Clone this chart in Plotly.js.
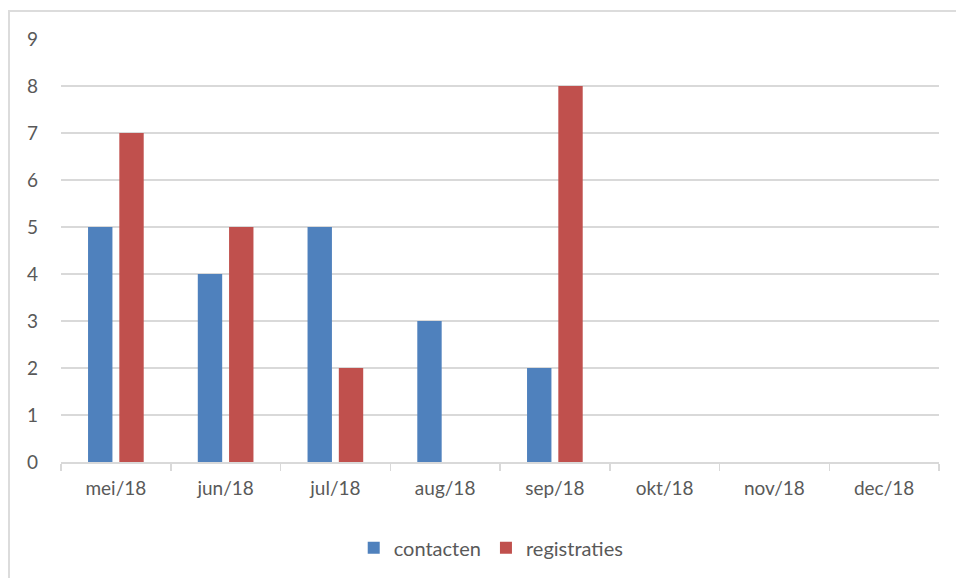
<!DOCTYPE html>
<html>
<head>
<meta charset="utf-8">
<script src="https://cdn.plot.ly/plotly-3.0.1.min.js"></script>
<style>
  html, body { margin: 0; padding: 0; background: #fff; }
  #plot { position: absolute; left: 0; top: 0; width: 956px; height: 578px; }
  #rand { position: absolute; left: 8px; top: 10px; width: 960px; height: 580px;
          border-left: 2px solid #dcdcdc; border-top: 2px solid #dcdcdc; pointer-events: none; }
</style>
</head>
<body>
<div id="plot"></div>
<div id="rand"></div>
<script>
const maanden = ["mei/18", "jun/18", "jul/18", "aug/18", "sep/18", "okt/18", "nov/18", "dec/18"];
const contacten = [5, 4, 5, 3, 2, null, null, null];
const registraties = [7, 5, 2, null, 8, null, null, null];

const lettertype = "Lato, 'Open Sans', sans-serif";

const data = [
    {
        x: maanden,
        y: contacten,
        type: 'bar',
        name: 'contacten',
        marker: { color: '#4F81BD' },
        hoverinfo: 'y'
    },
    {
        x: maanden,
        y: registraties,
        type: 'bar',
        name: 'registraties',
        marker: { color: '#C0504D' },
        hoverinfo: 'y'
    }
];

const layout = {
    width: 956,
    height: 578,
    margin: { l: 61, r: 17, t: 39, b: 115 },
    paper_bgcolor: '#fff',
    plot_bgcolor: '#fff',
    font: { family: lettertype, size: 19, color: '#595959' },
    barmode: 'group',
    bargap: 0.43,
    bargroupgap: 0.22,
    showlegend: true,
    legend: {
        orientation: 'h',
        x: 0.49,
        xanchor: 'center',
        y: -0.2,
        yanchor: 'middle',
        font: { family: lettertype, size: 20, color: '#595959' },
        itemwidth: 30,
        traceorder: 'normal'
    },
    xaxis: {
        type: 'category',
        tickson: 'boundaries',
        ticks: 'outside',
        ticklen: 7,
        tickcolor: '#d9d9d9',
        tickwidth: 1.5,
        showline: true,
        linecolor: '#d9d9d9',
        linewidth: 1.5,
        showgrid: false,
        ticklabelstandoff: 9,
        tickfont: { size: 19, color: '#595959' }
    },
    yaxis: {
        range: [0, 9],
        dtick: 1,
        showgrid: true,
        gridcolor: '#d9d9d9',
        gridwidth: 1.5,
        zeroline: false,
        showline: false,
        ticks: '',
        ticklabelstandoff: 22,
        tickfont: { size: 19, color: '#595959' }
    }
};

Plotly.newPlot('plot', data, layout, { displayModeBar: false, staticPlot: true });
</script>
</body>
</html>
